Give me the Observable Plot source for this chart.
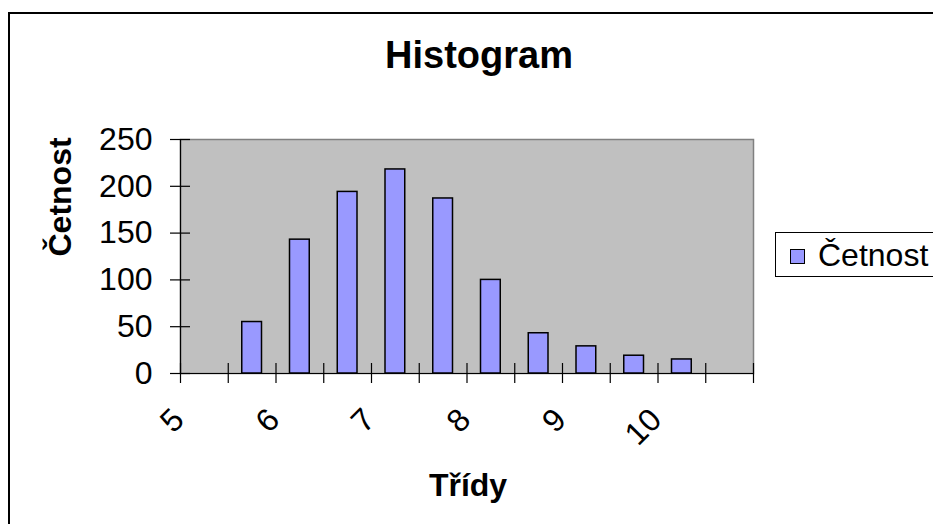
<!DOCTYPE html>
<html>
<head>
<meta charset="utf-8">
<script src="https://cdn.jsdelivr.net/npm/d3@7"></script>
<script src="https://cdn.jsdelivr.net/npm/@observablehq/plot@0.6"></script>
<style>
  html, body { margin: 0; padding: 0; background: white; overflow: hidden; }
  body { width: 933px; height: 524px; position: relative; font-family: "Liberation Sans", Arial, sans-serif; }
  #chart { position: absolute; left: 0; top: 0; }
  #outer { position: absolute; left: 8px; top: 12px; width: 1000px; height: 600px; border: 2px solid #000; pointer-events: none; }
  #legend { position: absolute; left: 775px; top: 232px; width: 200px; height: 45px; border: 1px solid #000; background: white; box-sizing: border-box; }
  #legend .sw { position: absolute; left: 14px; top: 16px; width: 13px; height: 13px; background: #9999FF; border: 1.5px solid #000; }
  #legend .lb { position: absolute; left: 42px; top: 3px; font-size: 32px; line-height: 38px; color: #000; }
</style>
</head>
<body>
<div id="chart"></div>
<div id="legend"><span class="sw"></span><span class="lb">Četnost</span></div>
<div id="outer"></div>
<script>
// Data
const binStarts = [5, 5.5, 6, 6.5, 7, 7.5, 8, 8.5, 9, 9.5, 10, 10.5];
const counts    = [0, 55, 143, 194, 218, 187, 100, 43, 29, 19, 15, 0];
const binWidth = 0.5;
const xTickValues = [5, 5.5, 6, 6.5, 7, 7.5, 8, 8.5, 9, 9.5, 10, 10.5, 11];
const xTickLabels = [5, 6, 7, 8, 9, 10];
const yTickValues = [0, 50, 100, 150, 200, 250];
const titleText = "Histogram";
const xTitle = "Třídy";
const yTitle = "Četnost";

const bars = binStarts.map((s, i) => ({start: s, end: s + binWidth, count: counts[i]})).filter(d => d.count > 0);

const chart = Plot.plot({
  width: 933,
  height: 524,
  marginLeft: 180,
  marginRight: 180,
  marginTop: 139,
  marginBottom: 151,
  style: {fontFamily: "'Liberation Sans', Arial, sans-serif", background: "transparent", color: "#000"},
  x: {domain: [5, 11], axis: null},
  y: {domain: [0, 250], axis: null},
  marks: [
    Plot.frame({fill: "#C0C0C0", stroke: "#808080", strokeWidth: 1.5}),
    Plot.rectY(bars, {x1: "start", x2: "end", y: "count", insetLeft: 14, insetRight: 14, fill: "#9999FF", stroke: "#000", strokeWidth: 1.5}),
    // axis lines
    Plot.ruleX([5], {stroke: "#000", strokeWidth: 1.2}),
    Plot.ruleY([0], {stroke: "#000", strokeWidth: 1.2}),
    // crossing tick marks
    Plot.ruleX(xTickValues, {x: d => d, insetTop: 224, insetBottom: -10, stroke: "#000", strokeWidth: 1.2}),
    Plot.ruleY(yTickValues, {y: d => d, insetLeft: -10, insetRight: 563, stroke: "#000", strokeWidth: 1.2}),
    // tick labels
    Plot.text(yTickValues, {y: d => d, text: d => String(d), frameAnchor: "left", lineAnchor: "middle", textAnchor: "end", dx: -28, fontSize: 32, fill: "#000"}),
    Plot.text(xTickLabels, {x: d => d, text: d => String(d), frameAnchor: "bottom", lineAnchor: "middle", rotate: -45, textAnchor: "end", dx: -2, dy: 41, fontSize: 32, fill: "#000"}),
    // titles
    Plot.text([titleText], {text: d => d, frameAnchor: "top", lineAnchor: "middle", dx: 12, dy: -84, fontSize: 38, fontWeight: "bold", fill: "#000"}),
    Plot.text([xTitle], {text: d => d, frameAnchor: "bottom", lineAnchor: "middle", dx: 1, dy: 112, fontSize: 32, fontWeight: "bold", fill: "#000"}),
    Plot.text([yTitle], {text: d => d, frameAnchor: "left", lineAnchor: "middle", rotate: -90, dx: -120, fontSize: 32, fontWeight: "bold", fill: "#000"})
  ]
});
document.getElementById("chart").appendChild(chart);
</script>
</body>
</html>
